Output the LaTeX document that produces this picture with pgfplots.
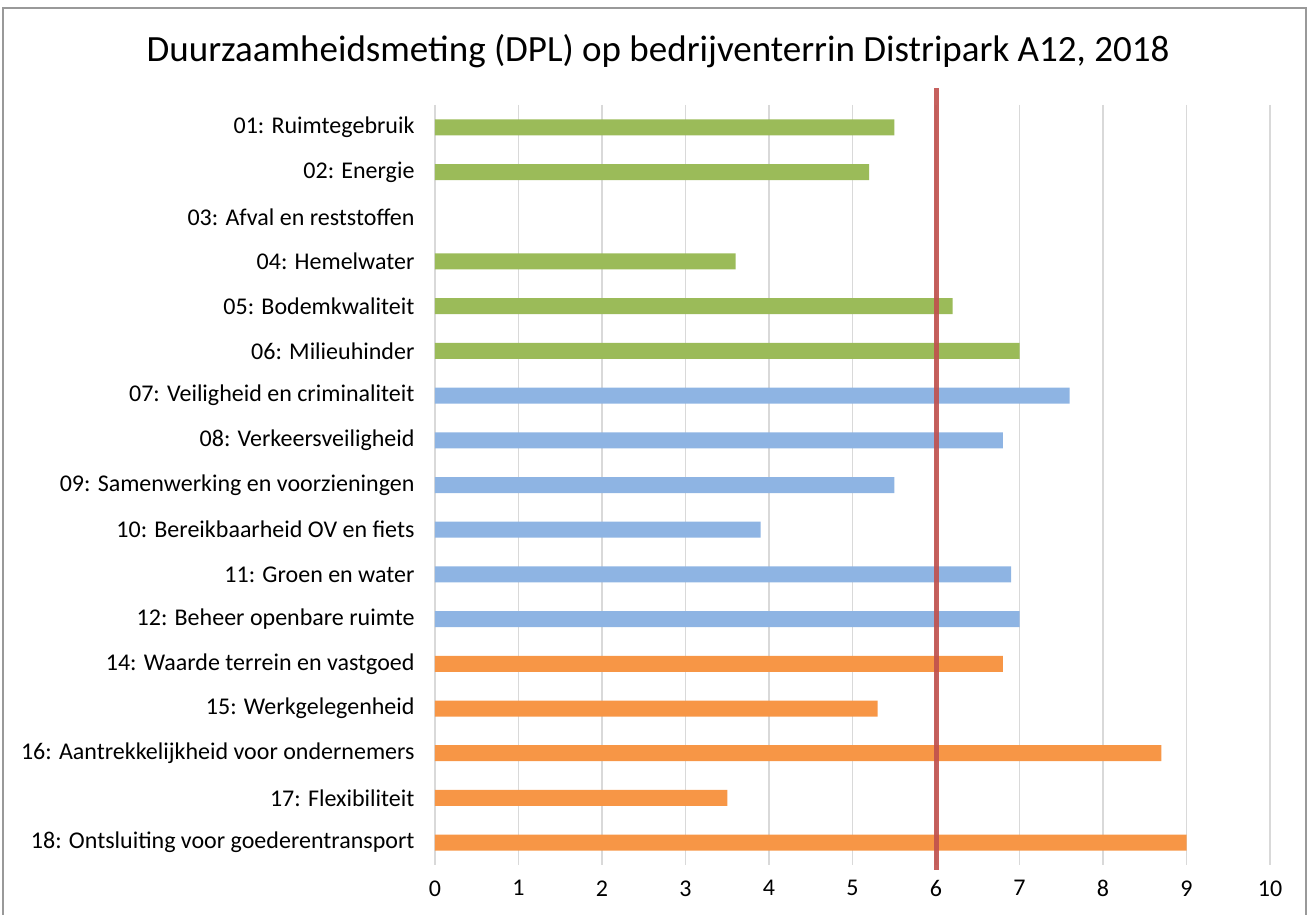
\documentclass[border=0pt]{standalone}
\usepackage{pgfplots}
\pgfplotsset{compat=1.18}
\usepackage{fontspec}
\setmainfont{Carlito}
\definecolor{cgreen}{HTML}{9BBB59}
\definecolor{cblue}{HTML}{8EB4E3}
\definecolor{corange}{HTML}{F79646}
\definecolor{cred}{HTML}{C0504D}
\definecolor{cgrid}{HTML}{D9D9D9}
\begin{document}
\begin{tikzpicture}[x=1pt,y=1pt]
\useasboundingbox (0,0) rectangle (1310,915);
\draw[color=gray!80, line width=2pt] (3,-2) -- (3,907) -- (1306,907) -- (1306,-2);
\node[font=\fontsize{37}{42}\selectfont] at (658,864) {Duurzaamheidsmeting (DPL) op bedrijventerrin Distripark A12, 2018};
\begin{axis}[
  at={(435pt,50pt)}, anchor=south west,
  scale only axis, width=835pt, height=760pt,
  xmin=0, xmax=10, ymin=-0.5, ymax=16.5,
  y dir=reverse,
  xtick={0,1,...,10},
  ytick={0,...,16},
  yticklabels={01: Ruimtegebruik, 02: Energie, 03: Afval en reststoffen, 04: Hemelwater, 05: Bodemkwaliteit, 06: Milieuhinder, 07: Veiligheid en criminaliteit, 08: Verkeersveiligheid, 09: Samenwerking en voorzieningen, 10: Bereikbaarheid OV en fiets, 11: Groen en water, 12: Beheer openbare ruimte, 14: Waarde terrein en vastgoed, 15: Werkgelegenheid, 16: Aantrekkelijkheid voor ondernemers, 17: Flexibiliteit, 18: Ontsluiting voor goederentransport},
  xmajorgrids, major grid style={cgrid, line width=1.5pt},
  axis line style={draw=none},
  major tick length=0pt,
  tick label style={font=\fontsize{24}{28}\selectfont},
  yticklabel style={xshift=-17pt},
  xticklabel style={yshift=-12pt},
  /pgf/number format/assume math mode=true,
  xbar, bar width=16pt, bar shift=0pt,
  clip=false,
]
\addplot[fill=cgreen, draw=none] coordinates {(5.5,0) (5.2,1) (3.6,3) (6.2,4) (7.0,5)};
\addplot[fill=cblue, draw=none] coordinates {(7.6,6) (6.8,7) (5.5,8) (3.9,9) (6.9,10) (7.0,11)};
\addplot[fill=corange, draw=none] coordinates {(6.8,12) (5.3,13) (8.7,14) (3.5,15) (9.0,16)};
\addplot[xbar=false, sharp plot, cred, line width=5pt, opacity=0.9] coordinates {(6,-0.88) (6,16.61)};
\end{axis}
\end{tikzpicture}
\end{document}
